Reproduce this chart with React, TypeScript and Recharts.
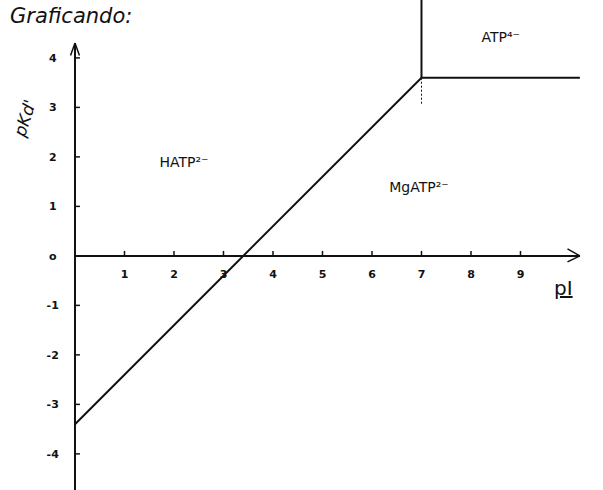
import {
  Label,
  Line,
  LineChart,
  ReferenceDot,
  ReferenceLine,
  XAxis,
  YAxis,
} from "recharts";

// tick values along each axis
const xTicks = [1, 2, 3, 4, 5, 6, 7, 8, 9];
const yTicks = [4, 3, 2, 1, 0, -1, -2, -3, -4];

// phase boundary: sloped edge, then flat above pI 7
const boundary = [
  { pI: 0, pKd: -3.4 },
  { pI: 7, pKd: 3.6 },
  { pI: 10.2, pKd: 3.6 },
];

// vertical edge at pI 7 and its dashed guide below the corner
const verticalEdge = [
  { x: 7, y: 3.6 },
  { x: 7, y: 5.3 },
];
const guideEdge = [
  { x: 7, y: 3.6 },
  { x: 7, y: 3.05 },
];

// species names placed in their regions
const regionNames = ["HATP²⁻", "MgATP²⁻", "ATP⁴⁻"];
const regionX = [2.2, 6.95, 8.6];
const regionY = [1.9, 1.4, 4.42];

const ink = "#111";
const font = "'DejaVu Sans', sans-serif";

export default function App() {
  return (
    <div
      style={{
        position: "absolute",
        left: 0,
        top: 0,
        width: 603,
        height: 490,
        background: "#fff",
        fontFamily: font,
      }}
    >
      <div
        style={{
          position: "absolute",
          left: 10,
          top: 4,
          fontSize: 21,
          color: ink,
          fontStyle: "italic",
        }}
      >
        Graficando:
      </div>
      <div
        style={{
          position: "absolute",
          left: 6,
          top: 108,
          fontSize: 17,
          color: ink,
          transform: "rotate(-72deg)",
          fontStyle: "italic",
        }}
      >
        pKd'
      </div>
      <div
        style={{
          position: "absolute",
          left: 554,
          top: 276,
          fontSize: 20,
          color: ink,
          textDecoration: "underline",
        }}
      >
        pI
      </div>
      <LineChart
        width={603}
        height={490}
        data={boundary}
        margin={{ top: 0, right: 0, bottom: 0, left: 0 }}
      >
        <XAxis
          dataKey="pI"
          type="number"
          domain={[-1.515, 10.667]}
          allowDataOverflow
          hide
        />
        <YAxis
          type="number"
          domain={[-4.73, 5.17]}
          allowDataOverflow
          hide
        />

        {/* axes */}
        <ReferenceLine
          segment={[
            { x: 0, y: 0 },
            { x: 10.2, y: 0 },
          ]}
          stroke={ink}
          strokeWidth={2}
          ifOverflow="visible"
        />
        <ReferenceLine
          segment={[
            { x: 10.2, y: 0 },
            { x: 9.95, y: 0.14 },
          ]}
          stroke={ink}
          strokeWidth={1.5}
          ifOverflow="visible"
        />
        <ReferenceLine
          segment={[
            { x: 10.2, y: 0 },
            { x: 9.95, y: -0.12 },
          ]}
          stroke={ink}
          strokeWidth={1.5}
          ifOverflow="visible"
        />
        <ReferenceLine
          segment={[
            { x: 0, y: -4.73 },
            { x: 0, y: 4.3 },
          ]}
          stroke={ink}
          strokeWidth={2}
          ifOverflow="visible"
        />
        <ReferenceLine
          segment={[
            { x: 0, y: 4.3 },
            { x: -0.09, y: 4.05 },
          ]}
          stroke={ink}
          strokeWidth={1.5}
          ifOverflow="visible"
        />
        <ReferenceLine
          segment={[
            { x: 0, y: 4.3 },
            { x: 0.09, y: 4.05 },
          ]}
          stroke={ink}
          strokeWidth={1.5}
          ifOverflow="visible"
        />

        {/* tick marks with their numbers */}
        {xTicks.map((t) => (
          <ReferenceLine
            key={`xt${t}`}
            segment={[
              { x: t, y: 0 },
              { x: t, y: 0.1 },
            ]}
            stroke={ink}
            strokeWidth={1.5}
            ifOverflow="visible"
          />
        ))}
        {xTicks.map((t) => (
          <ReferenceDot
            key={`xl${t}`}
            x={t}
            y={-0.36}
            r={0}
            fill="none"
            stroke="none"
            ifOverflow="visible"
          >
            <Label
              value={String(t)}
              position="center"
              fill={ink}
              fontSize={11}
              fontWeight="bold"
              fontFamily={font}
            />
          </ReferenceDot>
        ))}
        {yTicks
          .filter((t) => t !== 0)
          .map((t) => (
            <ReferenceLine
              key={`yt${t}`}
              segment={[
                { x: 0, y: t },
                { x: 0.1, y: t },
              ]}
              stroke={ink}
              strokeWidth={1.5}
              ifOverflow="visible"
            />
          ))}
        {yTicks.map((t) => (
          <ReferenceDot
            key={`yl${t}`}
            x={-0.45}
            y={t}
            r={0}
            fill="none"
            stroke="none"
            ifOverflow="visible"
          >
            <Label
              value={t === 0 ? "o" : String(t)}
              position="center"
              fill={ink}
              fontSize={11}
              fontWeight="bold"
              fontFamily={font}
            />
          </ReferenceDot>
        ))}

        {/* region boundaries */}
        <Line
          dataKey="pKd"
          stroke={ink}
          strokeWidth={2}
          dot={false}
          activeDot={false}
          isAnimationActive={false}
        />
        <ReferenceLine
          segment={verticalEdge}
          stroke={ink}
          strokeWidth={2}
          ifOverflow="visible"
        />
        <ReferenceLine
          segment={guideEdge}
          stroke={ink}
          strokeWidth={1}
          strokeDasharray="2 2"
          ifOverflow="visible"
        />

        {regionNames.map((name, i) => (
          <ReferenceDot
            key={name}
            x={regionX[i]}
            y={regionY[i]}
            r={0}
            fill="none"
            stroke="none"
            ifOverflow="visible"
          >
            <Label
              value={name}
              position="center"
              fill={ink}
              fontSize={14}
              fontFamily={font}
            />
          </ReferenceDot>
        ))}
      </LineChart>
    </div>
  );
}
